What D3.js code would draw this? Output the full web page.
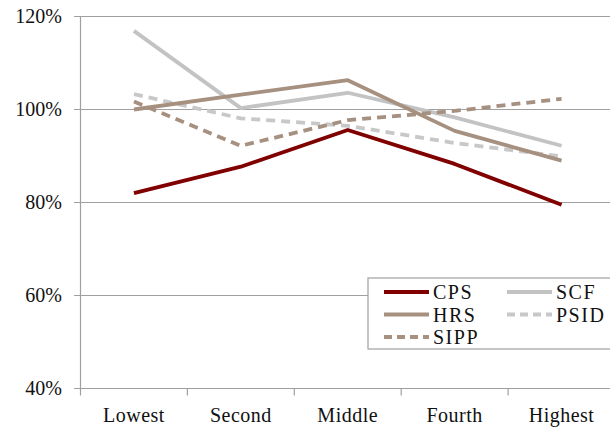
<!DOCTYPE html>
<html><head><meta charset="utf-8">
<script src="https://cdn.jsdelivr.net/npm/d3@7"></script>
<style>body{margin:0;background:#fff}svg{display:block}
text{font-family:"Liberation Serif","Times New Roman",Times,"DejaVu Serif",serif;}</style>
</head><body><svg id="c" width="610" height="431"></svg>
<script>
const categories = ["Lowest","Second","Middle","Fourth","Highest"];
const yTicks = [40,60,80,100,120];
const seriesNames = ["CPS","HRS","SIPP","SCF","PSID"];
const cps  = [82.0, 87.7, 95.6, 88.3, 79.5];
const hrs  = [100.0, 103.2, 106.3, 95.4, 89.0];
const sipp = [101.7, 92.2, 97.7, 99.7, 102.3];
const scf  = [116.9, 100.3, 103.6, 98.3, 92.2];
const psid = [103.3, 98.1, 96.5, 92.8, 89.9];

const series = [
  {name:"CPS", values:cps, color:"#800000", dash:null},
  {name:"HRS", values:hrs, color:"#A69080", dash:null},
  {name:"SIPP", values:sipp, color:"#A69080", dash:"9,6"},
  {name:"SCF", values:scf, color:"#C3C3C3", dash:null},
  {name:"PSID", values:psid, color:"#C8C8C8", dash:"9,6"}
];

const svg = d3.select("#c");
const x = d3.scaleBand().domain(categories).range([80.5, 615]);
const y = d3.scaleLinear().domain([40,120]).range([388.5, 16.5]);

svg.append("g").selectAll("line").data(yTicks).join("line")
  .attr("x1", 74).attr("x2", 615)
  .attr("y1", d=>y(d)).attr("y2", d=>y(d))
  .attr("stroke", "#A0A0A0").attr("stroke-width", 1.2);

svg.append("line").attr("x1",80.5).attr("x2",80.5).attr("y1",y(120)).attr("y2",y(40))
  .attr("stroke","#A0A0A0").attr("stroke-width",1.2);

const xt = categories.map(c=>x(c)).concat([x.range()[1]]);
svg.append("g").selectAll("line").data(xt).join("line")
  .attr("x1", d=>d).attr("x2", d=>d).attr("y1", y(40)).attr("y2", y(40)+7)
  .attr("stroke","#A0A0A0").attr("stroke-width",1.2);

svg.append("g").selectAll("text").data(yTicks).join("text")
  .attr("x", 62).attr("y", d=>y(d)+6)
  .attr("text-anchor","end").style("font-size","20px").attr("fill","#111")
  .text(d=>d+"%");

svg.append("g").selectAll("text").data(categories).join("text")
  .attr("x", d=>x(d)+x.bandwidth()/2).attr("y", 422)
  .attr("text-anchor","middle").style("font-size","20px").attr("letter-spacing",0.5).attr("fill","#111")
  .text(d=>d);

const line = d3.line().x((d,i)=>x(categories[i])+x.bandwidth()/2).y(d=>y(d));
const drawOrder = ["PSID","SCF","SIPP","HRS","CPS"];
drawOrder.forEach(n=>{
  const s = series.find(t=>t.name===n);
  svg.append("path").datum(s.values).attr("d", line)
    .attr("fill","none").attr("stroke", s.color).attr("stroke-width",3.8)
    .attr("stroke-dasharray", s.dash).attr("stroke-linejoin","round");
});

const lg = svg.append("g");
lg.append("rect").attr("x",368).attr("y",278).attr("width",260).attr("height",71)
  .attr("fill","#fff").attr("stroke","#A0A0A0").attr("stroke-width",1.2);
const pos = {CPS:[0,0],HRS:[0,1],SIPP:[0,2],SCF:[1,0],PSID:[1,1]};
series.forEach(s=>{
  const [c,r] = pos[s.name];
  const lx = c===0 ? 384 : 507;
  const ly = 292 + r*22.5;
  lg.append("line").attr("x1",lx).attr("x2",lx+45).attr("y1",ly).attr("y2",ly)
    .attr("stroke",s.color).attr("stroke-width",3.8).attr("stroke-dasharray", s.dash ? "8,5" : null);
  lg.append("text").attr("x",lx+49).attr("y",ly+7)
    .style("font-size","20px").attr("letter-spacing",1.5).attr("fill","#111").text(s.name);
});
</script></body></html>
